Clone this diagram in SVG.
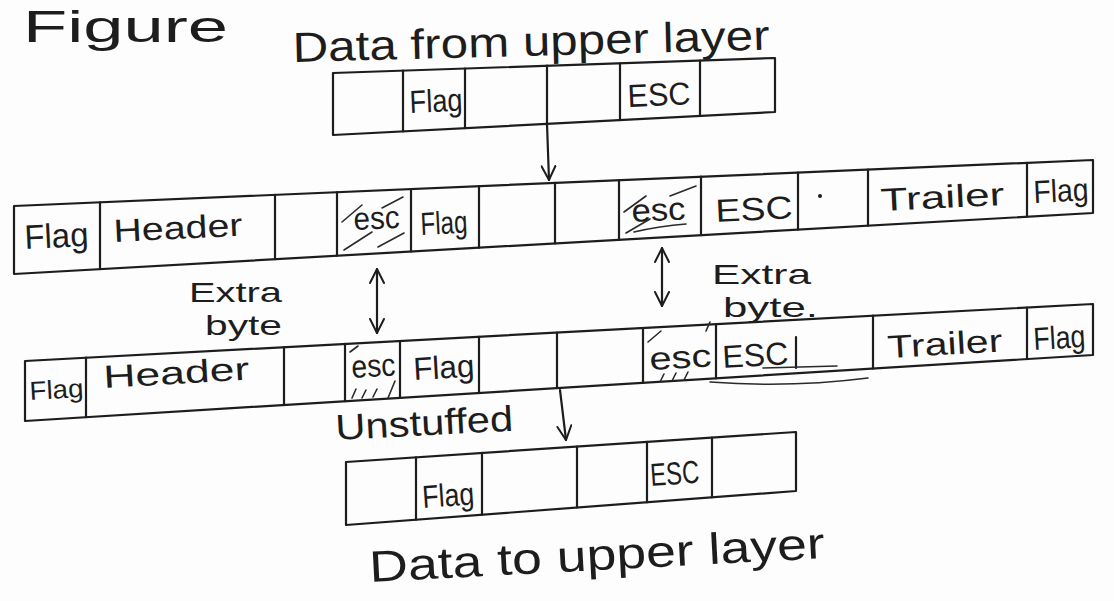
<svg xmlns="http://www.w3.org/2000/svg" width="1114" height="601" viewBox="0 0 1114 601">
  <style>
    .ink { fill: none; stroke: #1d1d1d; stroke-width: 2.2; stroke-linecap: round; stroke-linejoin: round; }
    .hatch { fill: none; stroke: #2a2a2a; stroke-width: 1.6; stroke-linecap: round; }
    .t { font-family: "Liberation Sans", Arial, sans-serif; fill: #1d1d1d; }
    .cell { font-size: 32px; }
    .lbl { font-size: 28px; }
    .title { font-size: 42px; }
  </style>
  <defs>
    <marker id="vhead" viewBox="0 0 16 16" refX="15" refY="8" markerWidth="16" markerHeight="16" markerUnits="userSpaceOnUse" orient="auto-start-reverse">
      <path d="M1,1 L15,8 L1,15" fill="none" stroke="#1d1d1d" stroke-width="2" stroke-linecap="round"/>
    </marker>
  </defs>

  <rect width="1114" height="601" fill="#fdfdfd"/>

  <!-- heading -->
  <text class="t" x="23" y="42" font-size="44" textLength="205" lengthAdjust="spacingAndGlyphs">Figure</text>

  <!-- data handed down from the upper layer -->
  <g id="data-from-upper">
    <text class="t title" x="293" y="62" textLength="477" lengthAdjust="spacingAndGlyphs" transform="rotate(-1.5 293 62)">Data from upper layer</text>
    <path class="ink" d="M333,73 L775,58 L775,112 L333,135 Z"/>
    <path class="ink" d="M403,70.6 V131.4 M465,68.5 V128.1 M547,65.7 V123.9 M620,63.3 V120.1 M700,60.5 V115.9"/>
    <text class="t cell" x="410" y="113" textLength="53" lengthAdjust="spacingAndGlyphs" transform="rotate(-2.5 410 113)">Flag</text>
    <text class="t cell" x="628" y="107" textLength="63" lengthAdjust="spacingAndGlyphs" transform="rotate(-2.5 628 107)">ESC</text>
  </g>

  <!-- stuffed frame as sent -->
  <g id="frame-sent">
    <path class="ink" d="M14,206 L1093,160 L1093,213 L14,274 Z"/>
    <path class="ink" d="M100,202.3 V269.1 M275,194.9 V259.2 M337,192.2 V255.7 M411,189.1 V251.6 M479,186.2 V247.7 M555,182.9 V243.4 M619,180.2 V239.8 M701,176.7 V235.2 M798,172.6 V229.7 M868,169.6 V225.7 M1027,162.8 V216.7"/>
    <g class="hatch">
      <path d="M342,222 L362,205 M344,250 L372,232 M378,247 L404,233 M382,208 L403,197"/>
      <path d="M624,212 L646,196 M626,233 L650,219 M634,232 Q660,226 686,224 M670,196 L696,186"/>
    </g>
    <circle cx="820" cy="196" r="2" fill="#1d1d1d"/>
    <g class="t cell">
      <text x="25" y="249" font-size="34" textLength="64" lengthAdjust="spacingAndGlyphs" transform="rotate(-2.8 25 249)">Flag</text>
      <text x="114" y="242" textLength="129" lengthAdjust="spacingAndGlyphs" transform="rotate(-2.8 114 242)">Header</text>
      <text x="354" y="230" textLength="46" lengthAdjust="spacingAndGlyphs" transform="rotate(-2.8 354 230)">esc</text>
      <text x="421" y="235" textLength="47" lengthAdjust="spacingAndGlyphs" transform="rotate(-2.8 421 235)">Flag</text>
      <text x="632" y="222" textLength="54" lengthAdjust="spacingAndGlyphs" transform="rotate(-2.8 632 222)">esc</text>
      <text x="716" y="222" textLength="77" lengthAdjust="spacingAndGlyphs" transform="rotate(-2.8 716 222)">ESC</text>
      <text x="881" y="211" textLength="124" lengthAdjust="spacingAndGlyphs" transform="rotate(-2.8 881 211)">Trailer</text>
      <text x="1034" y="203" textLength="55" lengthAdjust="spacingAndGlyphs" transform="rotate(-2.8 1034 203)">Flag</text>
    </g>
  </g>

  <!-- "Extra byte" notes -->
  <g id="extra-byte-left">
    <text class="t lbl" x="189" y="302" textLength="93" lengthAdjust="spacingAndGlyphs">Extra</text>
    <text class="t lbl" x="205" y="335" textLength="77" lengthAdjust="spacingAndGlyphs">byte</text>
  </g>
  <g id="extra-byte-right">
    <text class="t lbl" x="712" y="284" textLength="99" lengthAdjust="spacingAndGlyphs">Extra</text>
    <text class="t lbl" x="723" y="317" textLength="95" lengthAdjust="spacingAndGlyphs">byte.</text>
  </g>

  <!-- frame as received -->
  <g id="frame-received">
    <path class="ink" d="M25,361 L1093,304 L1093,355 L25,421 Z"/>
    <path class="ink" d="M86,357.7 V417.2 M284,347.2 V405 M345,343.9 V401.2 M400,341 V397.8 M479,336.8 V392.9 M557,332.6 V388.1 M643,328 V382.8 M716,324.1 V378.3 M873,315.7 V368.6 M1027,307.5 V359.1"/>
    <path class="ink" d="M796,337 V368"/>
    <g class="hatch">
      <path d="M352,398 L356,389 M362,398 L366,390 M373,397 L377,389 M388,398 L395,381 M350,352 L358,346"/>
      <path d="M648,342 L661,331 M660,382 L664,374 M672,381 L676,373 M684,380 L688,372 M706,331 L710,322"/>
      <path d="M763,368 L837,366 M710,382 Q790,388 868,378"/>
    </g>
    <g class="t cell">
      <text x="30" y="400" font-size="26" textLength="54" lengthAdjust="spacingAndGlyphs" transform="rotate(-3.3 30 400)">Flag</text>
      <text x="104" y="388" textLength="146" lengthAdjust="spacingAndGlyphs" transform="rotate(-3.3 104 388)">Header</text>
      <text x="352" y="378" textLength="44" lengthAdjust="spacingAndGlyphs" transform="rotate(-3.3 352 378)">esc</text>
      <text x="414" y="380" textLength="61" lengthAdjust="spacingAndGlyphs" transform="rotate(-3.3 414 380)">Flag</text>
      <text x="650" y="370" textLength="62" lengthAdjust="spacingAndGlyphs" transform="rotate(-3.3 650 370)">esc</text>
      <text x="723" y="368" textLength="66" lengthAdjust="spacingAndGlyphs" transform="rotate(-3.3 723 368)">ESC</text>
      <text x="888" y="358" textLength="115" lengthAdjust="spacingAndGlyphs" transform="rotate(-3.3 888 358)">Trailer</text>
      <text x="1034" y="350" textLength="52" lengthAdjust="spacingAndGlyphs" transform="rotate(-3.3 1034 350)">Flag</text>
    </g>
  </g>

  <g id="unstuffed-label">
    <text class="t" x="336" y="440" font-size="36" textLength="178" lengthAdjust="spacingAndGlyphs" transform="rotate(-3 336 440)">Unstuffed</text>
  </g>

  <!-- data passed up to the upper layer -->
  <g id="data-to-upper">
    <path class="ink" d="M346,462 L796,432 L796,491 L346,525 Z"/>
    <path class="ink" d="M416,457.3 V519.7 M482,452.9 V514.7 M577,446.6 V507.5 M647,441.9 V502.3 M712,437.6 V497.3"/>
    <text class="t cell" x="423" y="508" textLength="52" lengthAdjust="spacingAndGlyphs" transform="rotate(-4 423 508)">Flag</text>
    <text class="t cell" x="651" y="486" font-size="28" textLength="49" lengthAdjust="spacingAndGlyphs" transform="rotate(-4 651 486)">ESC</text>
    <text class="t" x="370" y="582" font-size="44" textLength="456" lengthAdjust="spacingAndGlyphs" transform="rotate(-3 370 582)">Data to upper layer</text>
  </g>

  <!-- connectors -->
  <g id="connectors" class="ink">
    <path d="M547,124 L549,180" marker-end="url(#vhead)"/>
    <path d="M377,269 L377,333" marker-start="url(#vhead)" marker-end="url(#vhead)"/>
    <path d="M662,248 L662,306" marker-start="url(#vhead)" marker-end="url(#vhead)"/>
    <path d="M560,390 L566,440" marker-end="url(#vhead)"/>
  </g>
</svg>
